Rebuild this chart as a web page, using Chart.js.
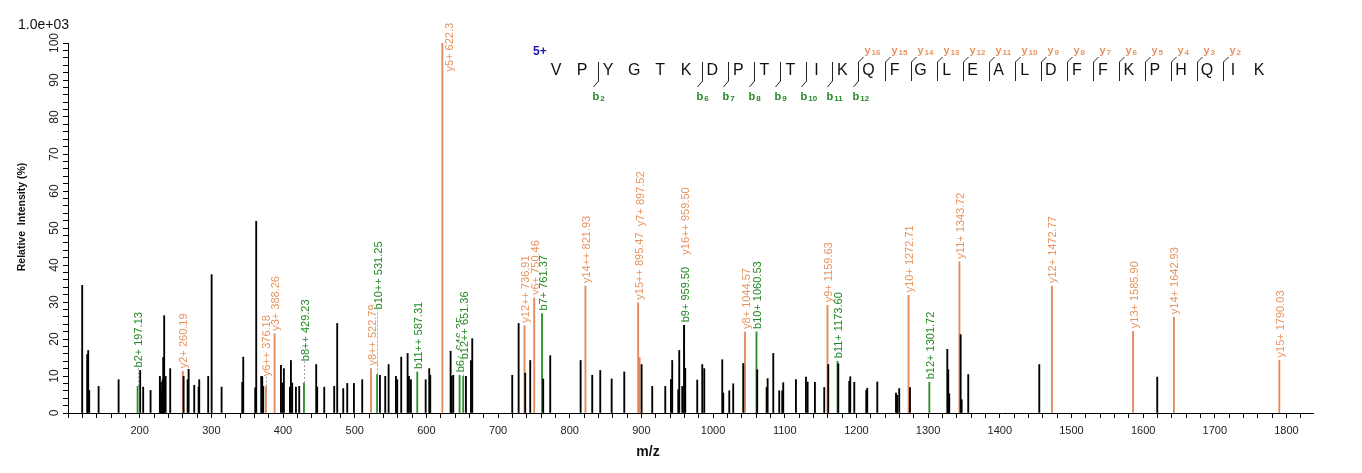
<!DOCTYPE html>
<html>
<head>
<meta charset="utf-8">
<title>Spectrum</title>
<script src="https://cdn.jsdelivr.net/npm/chart.js@4.4.1/dist/chart.umd.min.js"></script>
<style>
  html, body { margin: 0; padding: 0; background: #fff; }
  #wrap { width: 1362px; height: 473px; position: relative; }
</style>
</head>
<body>
<div id="wrap"><canvas id="spectrum"></canvas></div>
<script>
// unannotated peaks (m/z, relative intensity %)
const peakMz = [119.8, 126.8, 128.2, 129.6, 142.7, 170.6, 200.7, 204.9, 215.2, 228.2, 229.6, 231.0, 232.0, 232.8, 234.2, 236.2, 242.6, 261.3, 266.9, 268.3, 276.1, 282.2, 283.1, 295.6, 300.4, 314.3, 343.1, 344.5, 361.2, 362.6, 369.6, 371.0, 372.4, 397.1, 399.4, 401.2, 409.6, 411.0, 412.8, 418.0, 422.6, 446.3, 447.7, 457.5, 471.4, 475.6, 484.0, 489.6, 498.9, 510.5, 535.2, 542.6, 547.3, 557.5, 559.3, 564.9, 573.8, 575.7, 578.4, 599.0, 604.0, 605.4, 633.8, 635.2, 637.5, 655.2, 662.2, 664.0, 719.8, 728.7, 737.9, 744.9, 763.0, 772.8, 815.2, 831.4, 842.6, 858.5, 876.1, 900.3, 915.1, 933.3, 941.2, 943.0, 951.4, 952.8, 957.0, 959.6, 961.2, 977.9, 984.9, 987.7, 1012.8, 1014.2, 1022.6, 1028.1, 1042.1, 1061.6, 1074.7, 1076.1, 1084.0, 1092.3, 1096.5, 1097.9, 1115.6, 1129.6, 1131.9, 1142.1, 1155.1, 1160.7, 1174.7, 1190.0, 1191.4, 1197.0, 1213.7, 1215.1, 1229.1, 1255.2, 1256.9, 1259.7, 1274.7, 1326.8, 1328.1, 1329.5, 1345.4, 1346.8, 1356.0, 1455.1, 1619.7];
const peakInt = [34.5, 15.8, 16.9, 6.1, 7.2, 9.0, 11.5, 7.0, 6.1, 9.9, 8.3, 5.9, 9.0, 15.0, 26.3, 9.9, 12.0, 9.9, 9.0, 11.8, 7.5, 7.0, 9.0, 9.9, 37.4, 7.0, 8.3, 15.1, 6.8, 51.8, 9.9, 9.9, 7.2, 12.9, 8.1, 12.0, 7.0, 14.2, 8.1, 7.0, 7.2, 13.1, 7.0, 7.0, 7.2, 24.2, 6.6, 8.0, 8.0, 9.0, 10.2, 9.9, 13.1, 9.9, 9.0, 15.1, 16.1, 9.9, 9.0, 9.0, 12.0, 10.2, 16.7, 9.9, 10.2, 9.9, 14.2, 20.1, 10.2, 24.2, 10.8, 14.2, 9.2, 15.5, 14.2, 10.2, 11.5, 9.2, 11.1, 13.1, 7.2, 7.2, 9.0, 14.2, 6.3, 16.9, 7.2, 23.7, 12.1, 8.9, 13.1, 12.0, 14.4, 5.4, 6.0, 7.9, 13.4, 11.7, 6.9, 9.3, 16.1, 6.0, 6.0, 8.2, 9.0, 9.7, 8.4, 8.3, 6.9, 13.1, 13.3, 8.6, 9.8, 8.3, 6.1, 6.7, 8.4, 5.4, 4.8, 6.6, 6.9, 17.2, 11.7, 5.2, 21.2, 3.6, 10.4, 13.1, 9.7];

// y ions
const yIonMz = [260.19, 376.18, 388.26, 522.79, 622.3, 736.91, 750.46, 821.93, 895.47, 897.52, 959.50, 1044.57, 1159.63, 1272.71, 1343.72, 1472.77, 1585.90, 1642.93, 1790.03];
const yIonInt = [11.3, 7.2, 21.4, 12.0, 100, 23.6, 31.1, 34.3, 29.8, 15.0, 23.7, 21.9, 29.1, 31.8, 40.9, 34.3, 22.1, 25.9, 14.2];
const yIonLabel = ['y2+ 260.19', 'y6++ 376.18', 'y3+ 388.26', 'y8++ 522.79', 'y5+ 622.3', 'y12++ 736.91', 'y6+ 750.46', 'y14++ 821.93', 'y15++ 895.47', 'y7+ 897.52', 'y16++ 959.50', 'y8+ 1044.57', 'y9+ 1159.63', 'y10+ 1272.71', 'y11+ 1343.72', 'y12+ 1472.77', 'y13+ 1585.90', 'y14+ 1642.93', 'y15+ 1790.03'];

// b ions
const bIonMz = [197.13, 429.23, 531.25, 587.31, 646.35, 651.36, 761.37, 959.50, 1060.53, 1173.60, 1301.72];
const bIonInt = [7.2, 8.1, 10.4, 11.1, 10.2, 9.9, 26.9, 23.7, 21.9, 14.0, 8.3];
const bIonLabel = ['b2+ 197.13', 'b8++ 429.23', 'b10++ 531.25', 'b11++ 587.31', 'b6+ 646.35', 'b12++ 651.36', 'b7+ 761.37', 'b9+ 959.50', 'b10+ 1060.53', 'b11+ 1173.60', 'b12+ 1301.72'];

// peptide
const sequence = ['V', 'P', 'Y', 'G', 'T', 'K', 'D', 'P', 'T', 'T', 'I', 'K', 'Q', 'F', 'G', 'L', 'E', 'A', 'L', 'D', 'F', 'F', 'K', 'P', 'H', 'Q', 'I', 'K'];
const bSeen = [2, 6, 7, 8, 9, 10, 11, 12];
const ySeen = [16, 15, 14, 13, 12, 11, 10, 9, 8, 7, 6, 5, 4, 3, 2];
const chargeText = '5+';
const scaleText = '1.0e+03';
const xTitle = 'm/z';
const yTitle = 'Relative  Intensity (%)';

// labels that were pushed up from their peak (intensity where text starts)
const labelLift = {
  'b2+ 197.13': { at: 12.3 },
  'y6++ 376.18': { at: 9.9 },
  'b8++ 429.23': { at: 14 },
  'b10++ 531.25': { at: 28 },
  'y5+ 622.3': { at: 92.3, dx: 8 },
  'b12++ 651.36': { at: 14.5 },
  'y7+ 897.52': { at: 50.5, noDash: true },
  'y16++ 959.50': { at: 42.8, noDash: true }
};

const ORANGE = '#e4895a';
const ORANGE_TXT = '#e8935f';
const GREEN = '#2f8f2f';
const GREEN_TXT = '#238823';
const FONT = '"Liberation Sans", Arial, sans-serif';

const toXY = (mz, it) => mz.map((m, i) => ({ x: m, y: it[i] }));

function drawIonLabels(chart, mzs, ints, labels, color) {
  const ctx = chart.ctx, xs = chart.scales.x, ys = chart.scales.y;
  ctx.save();
  ctx.font = '11px ' + FONT;
  ctx.textBaseline = 'middle';
  ctx.textAlign = 'left';
  labels.forEach((txt, i) => {
    const x = xs.getPixelForValue(mzs[i]);
    const top = ys.getPixelForValue(ints[i]);
    const lift = labelLift[txt];
    let base = top - 3;
    let dx = 1.5;
    if (lift) {
      base = ys.getPixelForValue(lift.at);
      if (lift.dx !== undefined) dx = lift.dx;
      if (base < top - 4 && !lift.noDash) {
        ctx.save();
        ctx.strokeStyle = '#a0a0a0';
        ctx.lineWidth = 1;
        ctx.setLineDash([2, 2]);
        ctx.beginPath();
        ctx.moveTo(Math.round(x) + 0.5, top);
        ctx.lineTo(Math.round(x) + 0.5, base);
        ctx.stroke();
        ctx.restore();
      }
    }
    ctx.save();
    ctx.translate(x + dx, base);
    ctx.rotate(-Math.PI / 2);
    const w = ctx.measureText(txt).width;
    ctx.fillStyle = '#fff';
    ctx.fillRect(0, -5, w + 1, 10);
    ctx.fillStyle = color;
    ctx.fillText(txt, 0, 0);
    ctx.restore();
  });
  ctx.restore();
}

function drawSub(ctx, main, sub, x, y, color) {
  ctx.fillStyle = color;
  ctx.textAlign = 'left';
  ctx.textBaseline = 'alphabetic';
  ctx.font = 'bold 11px ' + FONT;
  ctx.fillText(main, x, y);
  const w = ctx.measureText(main).width;
  ctx.font = 'bold 8px ' + FONT;
  ctx.fillText(sub, x + w + 1, y + 1);
}

const spectrumText = {
  id: 'spectrumText',
  afterDatasetsDraw(chart) {
    drawIonLabels(chart, yIonMz, yIonInt, yIonLabel, ORANGE_TXT);
    drawIonLabels(chart, bIonMz, bIonInt, bIonLabel, GREEN_TXT);
  },
  afterDraw(chart) {
    const ctx = chart.ctx, ys = chart.scales.y, area = chart.chartArea;
    ctx.save();

    // y tick labels, rotated like the original
    ctx.fillStyle = '#222';
    ctx.font = '12px ' + FONT;
    ctx.textAlign = 'center';
    ctx.textBaseline = 'middle';
    for (let v = 0; v <= 100; v += 10) {
      ctx.save();
      ctx.translate(area.left - 13, ys.getPixelForValue(v));
      ctx.rotate(-Math.PI / 2);
      ctx.fillText(String(v), 0, 0);
      ctx.restore();
    }

    // axis titles
    ctx.fillStyle = '#111';
    ctx.font = 'bold 10.5px ' + FONT;
    ctx.save();
    ctx.translate(22, 217);
    ctx.rotate(-Math.PI / 2);
    ctx.fillText(yTitle, 0, 0);
    ctx.restore();
    ctx.font = 'bold 14px ' + FONT;
    ctx.fillText(xTitle, 648, 452);

    // scale note
    ctx.font = '14px ' + FONT;
    ctx.textAlign = 'left';
    ctx.fillStyle = '#111';
    ctx.fillText(scaleText, 18, 25);

    // peptide sequence with fragment brackets
    const x0 = 556, step = 26.04, yMid = 71;
    ctx.fillStyle = '#1818a8';
    ctx.font = 'bold 12px ' + FONT;
    ctx.fillText(chargeText, 533, 52);

    ctx.fillStyle = '#111';
    ctx.font = '16px ' + FONT;
    ctx.textAlign = 'center';
    sequence.forEach((aa, i) => ctx.fillText(aa, x0 + i * step, yMid));

    const n = sequence.length;
    ctx.strokeStyle = '#222';
    ctx.lineWidth = 1;
    for (let k = 1; k < n; k++) {
      const hasB = bSeen.includes(k);
      const hasY = ySeen.includes(n - k);
      if (!hasB && !hasY) continue;
      const bx = Math.round(x0 + k * step - 10) + 0.5;
      ctx.beginPath();
      ctx.moveTo(bx, 62);
      ctx.lineTo(bx, 81);
      if (hasB) { ctx.lineTo(bx - 5, 87); }
      if (hasY) { ctx.moveTo(bx, 62); ctx.lineTo(bx + 5, 57); }
      ctx.stroke();
      if (hasB) drawSub(ctx, 'b', String(k), bx - 6, 100, GREEN_TXT);
      if (hasY) drawSub(ctx, 'y', String(n - k), bx + 6, 54, ORANGE_TXT);
    }
    ctx.restore();
  }
};

const barBase = { grouped: false, barThickness: 1.2, borderWidth: 0 };

new Chart(document.getElementById('spectrum'), {
  type: 'bar',
  data: {
    datasets: [
      Object.assign({ label: 'peaks', data: toXY(peakMz, peakInt), backgroundColor: '#000', order: 0 }, barBase),
      Object.assign({ label: 'y ions', data: toXY(yIonMz, yIonInt), backgroundColor: ORANGE, order: 2 }, barBase),
      Object.assign({ label: 'b ions', data: toXY(bIonMz, bIonInt), backgroundColor: GREEN, order: 1 }, barBase)
    ]
  },
  options: {
    responsive: true,
    maintainAspectRatio: false,
    animation: false,
    events: [],
    layout: { padding: { left: 0, top: 43, right: 49, bottom: 0 } },
    plugins: { legend: { display: false }, tooltip: { enabled: false }, title: { display: false } },
    scales: {
      x: {
        type: 'linear',
        min: 100,
        max: 1837,
        offset: false,
        grid: { offset: false, drawOnChartArea: false, drawTicks: true, tickLength: 5, color: '#000' },
        border: { display: true, color: '#000', width: 1 },
        ticks: {
          stepSize: 20,
          autoSkip: false,
          includeBounds: false,
          maxRotation: 0,
          padding: 6,
          color: '#222',
          font: { family: FONT, size: 11 },
          callback: v => (Math.round(v) % 100 === 0 && v >= 200) ? String(Math.round(v)) : ''
        },
        afterFit: s => { s.height = 60; }
      },
      y: {
        min: 0,
        max: 100,
        grid: { drawOnChartArea: false, drawTicks: true, tickLength: 5, color: '#000' },
        border: { display: true, color: '#000', width: 1 },
        ticks: { stepSize: 2, autoSkip: false, callback: () => '' },
        afterFit: s => { s.width = 68; }
      }
    }
  },
  plugins: [spectrumText]
});
</script>
</body>
</html>
